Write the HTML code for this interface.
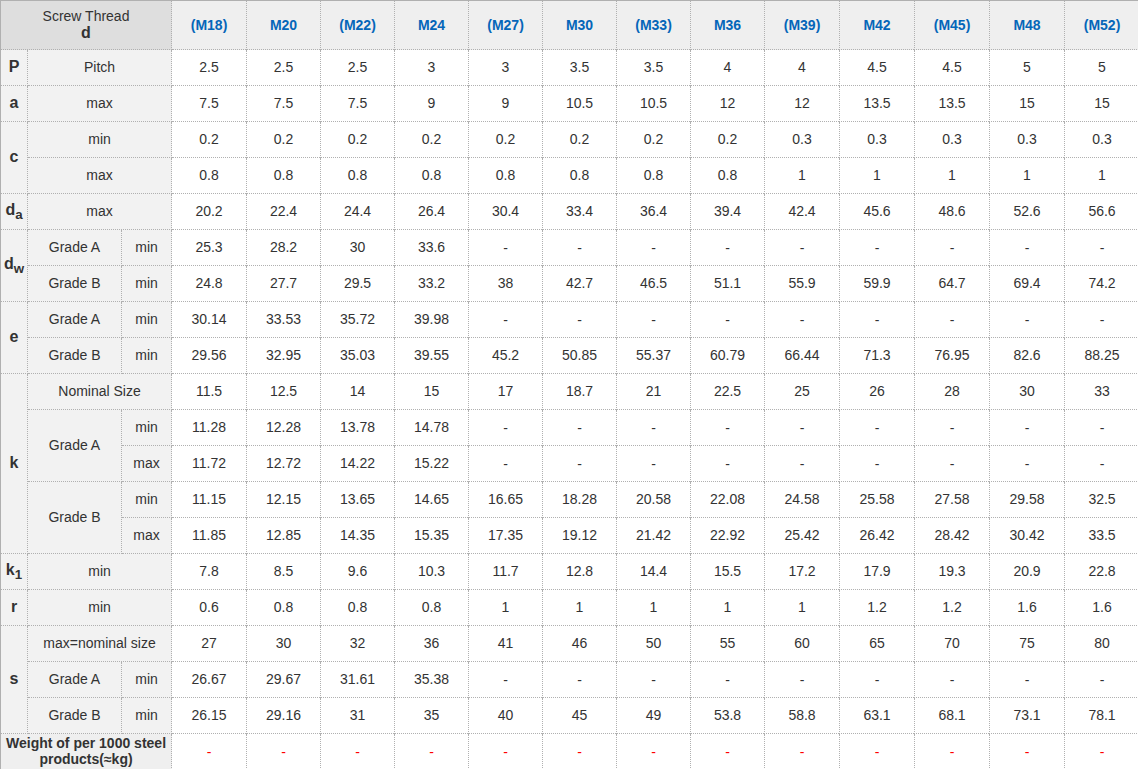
<!DOCTYPE html>
<html><head><meta charset="utf-8"><style>
html,body{margin:0;padding:0;background:#fff;overflow:hidden;width:1138px;height:769px}
#w{width:1138px;height:769px;overflow:hidden;position:relative}
table{border-collapse:separate;border-spacing:0;table-layout:fixed;width:1140px;font-family:"Liberation Sans",Arial,sans-serif;font-size:14px;color:#333;border-top:1px solid #b0b0b0;border-left:1px solid #b0b0b0}
td,th{border:0;border-right:1px solid transparent;border-bottom:1px solid transparent;background-origin:border-box;background-clip:border-box;background-repeat:no-repeat;padding:0 0 1px 0;text-align:center;vertical-align:middle;height:34px;font-weight:normal;overflow:hidden}
tr.hd th{height:47px;background-color:#efefef;color:#0566b9;font-weight:bold}
tr.hd th.sc{background-color:#dedede;color:#333;font-weight:normal}
tr.hd th.sc b{font-size:16px}
th.s{background-color:#f2f2f2;font-weight:bold;font-size:16px}
th.l{background-color:#f2f2f2}
th.w{background-color:#efefef;font-weight:bold;line-height:16px}
td{background-color:#fff}
td.red{color:#f00}
i{font-style:normal;position:relative;top:1px}
th.ss{padding:1px 0 0 0}
sub{font-size:smaller}
.b0h{background-image:repeating-linear-gradient(90deg,#b0b0b0 0 1px,transparent 1px 2px),repeating-linear-gradient(180deg,#b0b0b0 0 1px,transparent 1px 2px);background-position:0 100%,100% 0;background-size:100% 1px,1px 100%}
.b3h{background-image:repeating-linear-gradient(90deg,transparent 0 1px,#b0b0b0 1px 2px),linear-gradient(#b0b0b0,#b0b0b0),repeating-linear-gradient(180deg,#b0b0b0 0 1px,transparent 1px 2px);background-position:0 100%,0 100%,100% 0;background-size:100% 1px,1px 1px,1px 100%}
.b4h{background-image:repeating-linear-gradient(90deg,#b0b0b0 0 1px,transparent 1px 2px),repeating-linear-gradient(180deg,#b0b0b0 0 1px,transparent 1px 2px);background-position:0 100%,100% 0;background-size:100% 1px,1px 100%}
.b5h{background-image:repeating-linear-gradient(90deg,#b0b0b0 0 1px,transparent 1px 2px),repeating-linear-gradient(180deg,#b0b0b0 0 1px,transparent 1px 2px);background-position:0 100%,100% 0;background-size:100% 1px,1px 100%}
.b6h{background-image:repeating-linear-gradient(90deg,#b0b0b0 0 1px,transparent 1px 2px),repeating-linear-gradient(180deg,#b0b0b0 0 1px,transparent 1px 2px);background-position:0 100%,100% 0;background-size:100% 1px,1px 100%}
.b7h{background-image:repeating-linear-gradient(90deg,#b0b0b0 0 1px,transparent 1px 2px),repeating-linear-gradient(180deg,#b0b0b0 0 1px,transparent 1px 2px);background-position:0 100%,100% 0;background-size:100% 1px,1px 100%}
.b8h{background-image:repeating-linear-gradient(90deg,#b0b0b0 0 1px,transparent 1px 2px),repeating-linear-gradient(180deg,#b0b0b0 0 1px,transparent 1px 2px);background-position:0 100%,100% 0;background-size:100% 1px,1px 100%}
.b9h{background-image:repeating-linear-gradient(90deg,#b0b0b0 0 1px,transparent 1px 2px),repeating-linear-gradient(180deg,#b0b0b0 0 1px,transparent 1px 2px);background-position:0 100%,100% 0;background-size:100% 1px,1px 100%}
.b10h{background-image:repeating-linear-gradient(90deg,#b0b0b0 0 1px,transparent 1px 2px),repeating-linear-gradient(180deg,#b0b0b0 0 1px,transparent 1px 2px);background-position:0 100%,100% 0;background-size:100% 1px,1px 100%}
.b11h{background-image:repeating-linear-gradient(90deg,transparent 0 1px,#b0b0b0 1px 2px),repeating-linear-gradient(180deg,#b0b0b0 0 1px,transparent 1px 2px);background-position:0 100%,100% 0;background-size:100% 1px,1px 100%}
.b12h{background-image:repeating-linear-gradient(90deg,transparent 0 1px,#b0b0b0 1px 2px),repeating-linear-gradient(180deg,#b0b0b0 0 1px,transparent 1px 2px);background-position:0 100%,100% 0;background-size:100% 1px,1px 100%}
.b13h{background-image:repeating-linear-gradient(90deg,transparent 0 1px,#b0b0b0 1px 2px),repeating-linear-gradient(180deg,#b0b0b0 0 1px,transparent 1px 2px);background-position:0 100%,100% 0;background-size:100% 1px,1px 100%}
.b14h{background-image:repeating-linear-gradient(90deg,transparent 0 1px,#b0b0b0 1px 2px),repeating-linear-gradient(180deg,#b0b0b0 0 1px,transparent 1px 2px);background-position:0 100%,100% 0;background-size:100% 1px,1px 100%}
.b15h{background-image:repeating-linear-gradient(90deg,transparent 0 1px,#b0b0b0 1px 2px),repeating-linear-gradient(180deg,#b0b0b0 0 1px,transparent 1px 2px);background-position:0 100%,100% 0;background-size:100% 1px,1px 100%}
.b0{background-image:repeating-linear-gradient(90deg,#b0b0b0 0 1px,transparent 1px 2px),repeating-linear-gradient(180deg,transparent 0 1px,#b0b0b0 1px 2px),linear-gradient(#b0b0b0,#b0b0b0);background-position:0 100%,100% 0,100% 0;background-size:100% 1px,1px 100%,1px 1px}
.b1{background-image:repeating-linear-gradient(90deg,transparent 0 1px,#b0b0b0 1px 2px),linear-gradient(#b0b0b0,#b0b0b0),repeating-linear-gradient(180deg,transparent 0 1px,#b0b0b0 1px 2px),linear-gradient(#b0b0b0,#b0b0b0);background-position:0 100%,0 100%,100% 0,100% 0;background-size:100% 1px,1px 1px,1px 100%,1px 1px}
.b3{background-image:repeating-linear-gradient(90deg,transparent 0 1px,#b0b0b0 1px 2px),linear-gradient(#b0b0b0,#b0b0b0),repeating-linear-gradient(180deg,transparent 0 1px,#b0b0b0 1px 2px),linear-gradient(#b0b0b0,#b0b0b0);background-position:0 100%,0 100%,100% 0,100% 0;background-size:100% 1px,1px 1px,1px 100%,1px 1px}
.b4{background-image:repeating-linear-gradient(90deg,#b0b0b0 0 1px,transparent 1px 2px),repeating-linear-gradient(180deg,transparent 0 1px,#b0b0b0 1px 2px),linear-gradient(#b0b0b0,#b0b0b0);background-position:0 100%,100% 0,100% 0;background-size:100% 1px,1px 100%,1px 1px}
.b5{background-image:repeating-linear-gradient(90deg,#b0b0b0 0 1px,transparent 1px 2px),repeating-linear-gradient(180deg,transparent 0 1px,#b0b0b0 1px 2px),linear-gradient(#b0b0b0,#b0b0b0);background-position:0 100%,100% 0,100% 0;background-size:100% 1px,1px 100%,1px 1px}
.b6{background-image:repeating-linear-gradient(90deg,#b0b0b0 0 1px,transparent 1px 2px),repeating-linear-gradient(180deg,transparent 0 1px,#b0b0b0 1px 2px),linear-gradient(#b0b0b0,#b0b0b0);background-position:0 100%,100% 0,100% 0;background-size:100% 1px,1px 100%,1px 1px}
.b7{background-image:repeating-linear-gradient(90deg,#b0b0b0 0 1px,transparent 1px 2px),repeating-linear-gradient(180deg,transparent 0 1px,#b0b0b0 1px 2px),linear-gradient(#b0b0b0,#b0b0b0);background-position:0 100%,100% 0,100% 0;background-size:100% 1px,1px 100%,1px 1px}
.b8{background-image:repeating-linear-gradient(90deg,#b0b0b0 0 1px,transparent 1px 2px),repeating-linear-gradient(180deg,transparent 0 1px,#b0b0b0 1px 2px),linear-gradient(#b0b0b0,#b0b0b0);background-position:0 100%,100% 0,100% 0;background-size:100% 1px,1px 100%,1px 1px}
.b9{background-image:repeating-linear-gradient(90deg,#b0b0b0 0 1px,transparent 1px 2px),repeating-linear-gradient(180deg,transparent 0 1px,#b0b0b0 1px 2px),linear-gradient(#b0b0b0,#b0b0b0);background-position:0 100%,100% 0,100% 0;background-size:100% 1px,1px 100%,1px 1px}
.b10{background-image:repeating-linear-gradient(90deg,#b0b0b0 0 1px,transparent 1px 2px),repeating-linear-gradient(180deg,transparent 0 1px,#b0b0b0 1px 2px),linear-gradient(#b0b0b0,#b0b0b0);background-position:0 100%,100% 0,100% 0;background-size:100% 1px,1px 100%,1px 1px}
.b11{background-image:repeating-linear-gradient(90deg,transparent 0 1px,#b0b0b0 1px 2px),repeating-linear-gradient(180deg,transparent 0 1px,#b0b0b0 1px 2px),linear-gradient(#b0b0b0,#b0b0b0);background-position:0 100%,100% 0,100% 0;background-size:100% 1px,1px 100%,1px 1px}
.b12{background-image:repeating-linear-gradient(90deg,transparent 0 1px,#b0b0b0 1px 2px),repeating-linear-gradient(180deg,transparent 0 1px,#b0b0b0 1px 2px),linear-gradient(#b0b0b0,#b0b0b0);background-position:0 100%,100% 0,100% 0;background-size:100% 1px,1px 100%,1px 1px}
.b13{background-image:repeating-linear-gradient(90deg,transparent 0 1px,#b0b0b0 1px 2px),repeating-linear-gradient(180deg,transparent 0 1px,#b0b0b0 1px 2px),linear-gradient(#b0b0b0,#b0b0b0);background-position:0 100%,100% 0,100% 0;background-size:100% 1px,1px 100%,1px 1px}
.b14{background-image:repeating-linear-gradient(90deg,transparent 0 1px,#b0b0b0 1px 2px),repeating-linear-gradient(180deg,transparent 0 1px,#b0b0b0 1px 2px),linear-gradient(#b0b0b0,#b0b0b0);background-position:0 100%,100% 0,100% 0;background-size:100% 1px,1px 100%,1px 1px}
.b15{background-image:repeating-linear-gradient(90deg,transparent 0 1px,#b0b0b0 1px 2px),repeating-linear-gradient(180deg,transparent 0 1px,#b0b0b0 1px 2px),linear-gradient(#b0b0b0,#b0b0b0);background-position:0 100%,100% 0,100% 0;background-size:100% 1px,1px 100%,1px 1px}
.b2{background-image:repeating-linear-gradient(90deg,transparent 0 1px,#b0b0b0 1px 2px),linear-gradient(#b0b0b0,#b0b0b0),repeating-linear-gradient(180deg,transparent 0 1px,#b0b0b0 1px 2px),linear-gradient(#b0b0b0,#b0b0b0);background-position:0 100%,0 100%,100% 0,100% 0;background-size:100% 1px,1px 1px,1px 100%,1px 1px}
</style></head>
<body><div id="w"><table><colgroup><col style="width:27px"><col style="width:94px"><col style="width:50px"><col style="width:75px"><col style="width:74px"><col style="width:74px"><col style="width:74px"><col style="width:74px"><col style="width:74px"><col style="width:74px"><col style="width:74px"><col style="width:75px"><col style="width:75px"><col style="width:75px"><col style="width:75px"><col style="width:75px"></colgroup>
<tr class="hd"><th class="sc b0h" colspan="3">Screw Thread<br><b>d</b></th><th class="b3h">(M18)</th><th class="b4h">M20</th><th class="b5h">(M22)</th><th class="b6h">M24</th><th class="b7h">(M27)</th><th class="b8h">M30</th><th class="b9h">(M33)</th><th class="b10h">M36</th><th class="b11h">(M39)</th><th class="b12h">M42</th><th class="b13h">(M45)</th><th class="b14h">M48</th><th class="b15h">(M52)</th></tr>
<tr><th class="s b0">P</th><th class="l b1" colspan="2">Pitch</th><td class="b3">2.5</td><td class="b4">2.5</td><td class="b5">2.5</td><td class="b6">3</td><td class="b7">3</td><td class="b8">3.5</td><td class="b9">3.5</td><td class="b10">4</td><td class="b11">4</td><td class="b12">4.5</td><td class="b13">4.5</td><td class="b14">5</td><td class="b15">5</td></tr>
<tr><th class="s b0">a</th><th class="l b1" colspan="2">max</th><td class="b3">7.5</td><td class="b4">7.5</td><td class="b5">7.5</td><td class="b6">9</td><td class="b7">9</td><td class="b8">10.5</td><td class="b9">10.5</td><td class="b10">12</td><td class="b11">12</td><td class="b12">13.5</td><td class="b13">13.5</td><td class="b14">15</td><td class="b15">15</td></tr>
<tr><th class="s b0" rowspan="2">c</th><th class="l b1" colspan="2">min</th><td class="b3">0.2</td><td class="b4">0.2</td><td class="b5">0.2</td><td class="b6">0.2</td><td class="b7">0.2</td><td class="b8">0.2</td><td class="b9">0.2</td><td class="b10">0.2</td><td class="b11">0.3</td><td class="b12">0.3</td><td class="b13">0.3</td><td class="b14">0.3</td><td class="b15">0.3</td></tr>
<tr><th class="l b1" colspan="2">max</th><td class="b3">0.8</td><td class="b4">0.8</td><td class="b5">0.8</td><td class="b6">0.8</td><td class="b7">0.8</td><td class="b8">0.8</td><td class="b9">0.8</td><td class="b10">0.8</td><td class="b11">1</td><td class="b12">1</td><td class="b13">1</td><td class="b14">1</td><td class="b15">1</td></tr>
<tr><th class="s ss b0">d<sub>a</sub></th><th class="l b1" colspan="2">max</th><td class="b3">20.2</td><td class="b4">22.4</td><td class="b5">24.4</td><td class="b6">26.4</td><td class="b7">30.4</td><td class="b8">33.4</td><td class="b9">36.4</td><td class="b10">39.4</td><td class="b11">42.4</td><td class="b12">45.6</td><td class="b13">48.6</td><td class="b14">52.6</td><td class="b15">56.6</td></tr>
<tr><th class="s ss b0" rowspan="2">d<sub>w</sub></th><th class="l b1">Grade A</th><th class="l b2">min</th><td class="b3">25.3</td><td class="b4">28.2</td><td class="b5">30</td><td class="b6">33.6</td><td class="b7"><i>-</i></td><td class="b8"><i>-</i></td><td class="b9"><i>-</i></td><td class="b10"><i>-</i></td><td class="b11"><i>-</i></td><td class="b12"><i>-</i></td><td class="b13"><i>-</i></td><td class="b14"><i>-</i></td><td class="b15"><i>-</i></td></tr>
<tr><th class="l b1">Grade B</th><th class="l b2">min</th><td class="b3">24.8</td><td class="b4">27.7</td><td class="b5">29.5</td><td class="b6">33.2</td><td class="b7">38</td><td class="b8">42.7</td><td class="b9">46.5</td><td class="b10">51.1</td><td class="b11">55.9</td><td class="b12">59.9</td><td class="b13">64.7</td><td class="b14">69.4</td><td class="b15">74.2</td></tr>
<tr><th class="s b0" rowspan="2">e</th><th class="l b1">Grade A</th><th class="l b2">min</th><td class="b3">30.14</td><td class="b4">33.53</td><td class="b5">35.72</td><td class="b6">39.98</td><td class="b7"><i>-</i></td><td class="b8"><i>-</i></td><td class="b9"><i>-</i></td><td class="b10"><i>-</i></td><td class="b11"><i>-</i></td><td class="b12"><i>-</i></td><td class="b13"><i>-</i></td><td class="b14"><i>-</i></td><td class="b15"><i>-</i></td></tr>
<tr><th class="l b1">Grade B</th><th class="l b2">min</th><td class="b3">29.56</td><td class="b4">32.95</td><td class="b5">35.03</td><td class="b6">39.55</td><td class="b7">45.2</td><td class="b8">50.85</td><td class="b9">55.37</td><td class="b10">60.79</td><td class="b11">66.44</td><td class="b12">71.3</td><td class="b13">76.95</td><td class="b14">82.6</td><td class="b15">88.25</td></tr>
<tr><th class="s b0" rowspan="5">k</th><th class="l b1" colspan="2">Nominal Size</th><td class="b3">11.5</td><td class="b4">12.5</td><td class="b5">14</td><td class="b6">15</td><td class="b7">17</td><td class="b8">18.7</td><td class="b9">21</td><td class="b10">22.5</td><td class="b11">25</td><td class="b12">26</td><td class="b13">28</td><td class="b14">30</td><td class="b15">33</td></tr>
<tr><th class="l b1" rowspan="2">Grade A</th><th class="l b2">min</th><td class="b3">11.28</td><td class="b4">12.28</td><td class="b5">13.78</td><td class="b6">14.78</td><td class="b7"><i>-</i></td><td class="b8"><i>-</i></td><td class="b9"><i>-</i></td><td class="b10"><i>-</i></td><td class="b11"><i>-</i></td><td class="b12"><i>-</i></td><td class="b13"><i>-</i></td><td class="b14"><i>-</i></td><td class="b15"><i>-</i></td></tr>
<tr><th class="l b2">max</th><td class="b3">11.72</td><td class="b4">12.72</td><td class="b5">14.22</td><td class="b6">15.22</td><td class="b7"><i>-</i></td><td class="b8"><i>-</i></td><td class="b9"><i>-</i></td><td class="b10"><i>-</i></td><td class="b11"><i>-</i></td><td class="b12"><i>-</i></td><td class="b13"><i>-</i></td><td class="b14"><i>-</i></td><td class="b15"><i>-</i></td></tr>
<tr><th class="l b1" rowspan="2">Grade B</th><th class="l b2">min</th><td class="b3">11.15</td><td class="b4">12.15</td><td class="b5">13.65</td><td class="b6">14.65</td><td class="b7">16.65</td><td class="b8">18.28</td><td class="b9">20.58</td><td class="b10">22.08</td><td class="b11">24.58</td><td class="b12">25.58</td><td class="b13">27.58</td><td class="b14">29.58</td><td class="b15">32.5</td></tr>
<tr><th class="l b2">max</th><td class="b3">11.85</td><td class="b4">12.85</td><td class="b5">14.35</td><td class="b6">15.35</td><td class="b7">17.35</td><td class="b8">19.12</td><td class="b9">21.42</td><td class="b10">22.92</td><td class="b11">25.42</td><td class="b12">26.42</td><td class="b13">28.42</td><td class="b14">30.42</td><td class="b15">33.5</td></tr>
<tr><th class="s ss b0">k<sub>1</sub></th><th class="l b1" colspan="2">min</th><td class="b3">7.8</td><td class="b4">8.5</td><td class="b5">9.6</td><td class="b6">10.3</td><td class="b7">11.7</td><td class="b8">12.8</td><td class="b9">14.4</td><td class="b10">15.5</td><td class="b11">17.2</td><td class="b12">17.9</td><td class="b13">19.3</td><td class="b14">20.9</td><td class="b15">22.8</td></tr>
<tr><th class="s b0">r</th><th class="l b1" colspan="2">min</th><td class="b3">0.6</td><td class="b4">0.8</td><td class="b5">0.8</td><td class="b6">0.8</td><td class="b7">1</td><td class="b8">1</td><td class="b9">1</td><td class="b10">1</td><td class="b11">1</td><td class="b12">1.2</td><td class="b13">1.2</td><td class="b14">1.6</td><td class="b15">1.6</td></tr>
<tr><th class="s b0" rowspan="3">s</th><th class="l b1" colspan="2">max=nominal size</th><td class="b3">27</td><td class="b4">30</td><td class="b5">32</td><td class="b6">36</td><td class="b7">41</td><td class="b8">46</td><td class="b9">50</td><td class="b10">55</td><td class="b11">60</td><td class="b12">65</td><td class="b13">70</td><td class="b14">75</td><td class="b15">80</td></tr>
<tr><th class="l b1">Grade A</th><th class="l b2">min</th><td class="b3">26.67</td><td class="b4">29.67</td><td class="b5">31.61</td><td class="b6">35.38</td><td class="b7"><i>-</i></td><td class="b8"><i>-</i></td><td class="b9"><i>-</i></td><td class="b10"><i>-</i></td><td class="b11"><i>-</i></td><td class="b12"><i>-</i></td><td class="b13"><i>-</i></td><td class="b14"><i>-</i></td><td class="b15"><i>-</i></td></tr>
<tr><th class="l b1">Grade B</th><th class="l b2">min</th><td class="b3">26.15</td><td class="b4">29.16</td><td class="b5">31</td><td class="b6">35</td><td class="b7">40</td><td class="b8">45</td><td class="b9">49</td><td class="b10">53.8</td><td class="b11">58.8</td><td class="b12">63.1</td><td class="b13">68.1</td><td class="b14">73.1</td><td class="b15">78.1</td></tr>
<tr><th class="w b0" colspan="3">Weight of per 1000 steel products(≈kg)</th><td class="red b3"><i>-</i></td><td class="red b4"><i>-</i></td><td class="red b5"><i>-</i></td><td class="red b6"><i>-</i></td><td class="red b7"><i>-</i></td><td class="red b8"><i>-</i></td><td class="red b9"><i>-</i></td><td class="red b10"><i>-</i></td><td class="red b11"><i>-</i></td><td class="red b12"><i>-</i></td><td class="red b13"><i>-</i></td><td class="red b14"><i>-</i></td><td class="red b15"><i>-</i></td></tr>
</table></div></body></html>
